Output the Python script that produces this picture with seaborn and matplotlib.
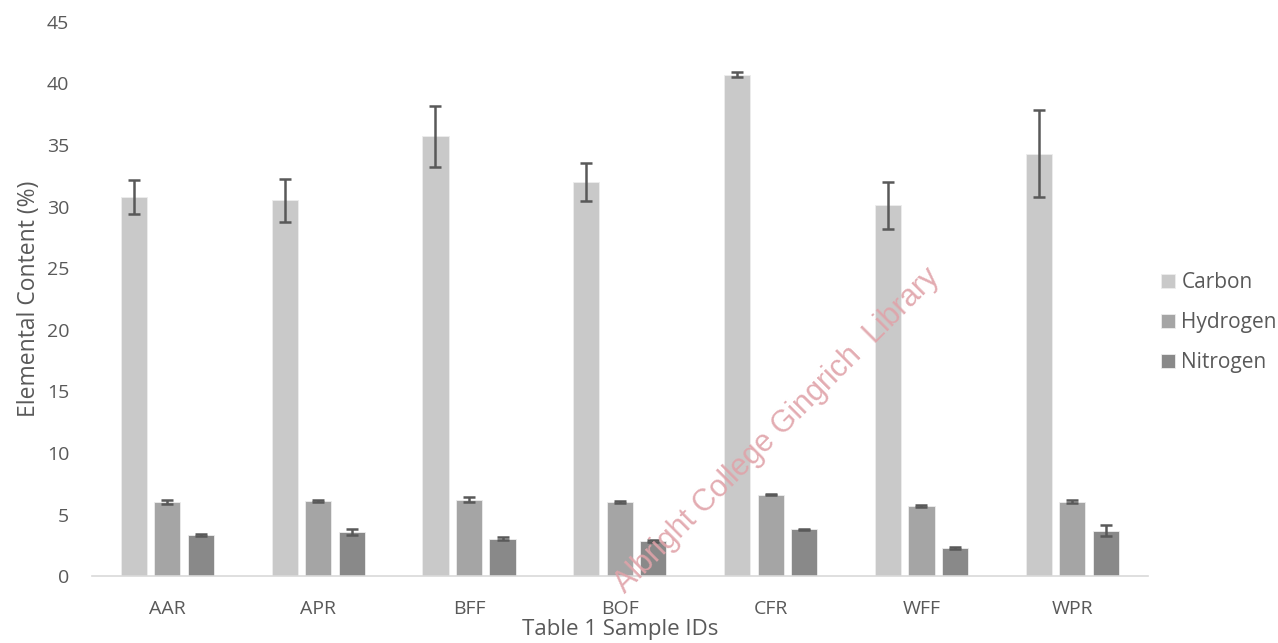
import pandas as pd
import matplotlib
matplotlib.use("Agg")
import matplotlib.pyplot as plt
import seaborn as sns

# values
samples = ["AAR", "APR", "BFF", "BOF", "CFR", "WFF", "WPR"]
elements = ["Carbon", "Hydrogen", "Nitrogen"]
carbon = [30.8, 30.5, 35.7, 32.0, 40.7, 30.1, 34.3]
carbon_err = [1.4, 1.75, 2.45, 1.55, 0.2, 1.9, 3.55]
hydrogen = [6.0, 6.1, 6.2, 6.0, 6.6, 5.7, 6.05]
hydrogen_err = [0.15, 0.1, 0.2, 0.1, 0.05, 0.1, 0.12]
nitrogen = [3.35, 3.55, 3.05, 2.85, 3.8, 2.3, 3.7]
nitrogen_err = [0.1, 0.25, 0.15, 0.1, 0.05, 0.1, 0.48]
colors = ["#C9C9C9", "#A5A5A5", "#898989"]

rows = []
for el, vals, errs in zip(elements, [carbon, hydrogen, nitrogen],
                          [carbon_err, hydrogen_err, nitrogen_err]):
    for s, v, e in zip(samples, vals, errs):
        rows.append({"sample": s, "element": el, "value": v, "err": e})
df = pd.DataFrame(rows)

sns.set_style("white")
plt.rcParams["font.family"] = ["Open Sans", "DejaVu Sans"]
txt = "#595959"

fig = plt.figure(figsize=(12.78, 6.43), dpi=100)
ax = fig.add_axes([0.072, 0.104, 0.826, 0.862])

sns.barplot(data=df, x="sample", y="value", hue="element", palette=colors,
            width=0.667, gap=0.22, errorbar=None, edgecolor="#EDEDED",
            linewidth=0.6, ax=ax)

# error bars on top of each bar
for cont, el in zip(ax.containers, elements):
    sub = df[df["element"] == el]
    xs = [b.get_x() + b.get_width() / 2 for b in cont]
    ax.errorbar(xs, sub["value"], yerr=sub["err"], fmt="none",
                ecolor="#595959", elinewidth=1.8, capsize=4.5, capthick=1.8)

ax.set_ylim(0, 45)
ax.set_yticks(range(0, 46, 5))
ax.set_xlim(-0.5, len(samples) - 0.5)
ax.tick_params(axis="both", length=0, labelsize=14, colors=txt)
ax.tick_params(axis="y", pad=16.5)
ax.tick_params(axis="x", pad=17)
for sp in ["top", "right", "left"]:
    ax.spines[sp].set_visible(False)
ax.spines["bottom"].set_color("#D9D9D9")
ax.spines["bottom"].set_linewidth(1.2)

ax.set_xlabel("Table 1 Sample IDs", fontsize=16, color=txt, labelpad=1)
ax.set_ylabel("Elemental Content (%)", fontsize=16.5, color=txt, labelpad=4)

ax.legend(loc="center left", bbox_to_anchor=(0.902, 0.498),
          bbox_transform=fig.transFigure, borderaxespad=0, frameon=False,
          fontsize=15, labelcolor=txt, handlelength=0.65, handleheight=0.65,
          handletextpad=0.32, labelspacing=0.92)

# library watermark
fig.text(0.608, 0.331, "Albright College Gingrich  Library", rotation=45,
         ha="center", va="center", rotation_mode="anchor", fontsize=22,
         color="#E0A3A9", family="Liberation Sans", alpha=0.9)

fig.savefig("out.png", dpi=100)
